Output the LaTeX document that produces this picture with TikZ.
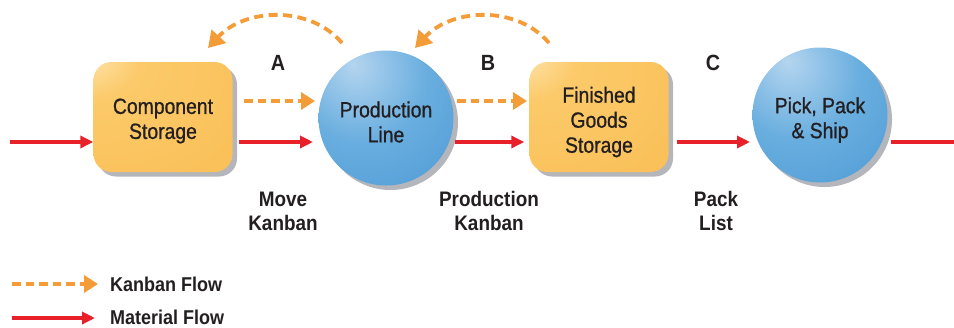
\documentclass[tikz,border=0pt]{standalone}
\usepackage{fontspec}
\setmainfont{Liberation Sans}[FakeStretch=0.9]
\newfontfamily\stationfont{Liberation Sans}[FakeStretch=0.88, FakeBold=0.9]
\usetikzlibrary{arrows.meta,calc}

\definecolor{boxlight}{HTML}{FEEBC0}
\definecolor{boxmain}{HTML}{FCCA6A}
\definecolor{boxdark}{HTML}{F9BE55}
\definecolor{balllight}{HTML}{B4D5EF}
\definecolor{ballmain}{HTML}{69AEDF}
\definecolor{balldark}{HTML}{4E9AD5}
\definecolor{shadowgray}{HTML}{B4B6BC}
\definecolor{kanbanorange}{HTML}{F39C38}
\definecolor{materialred}{HTML}{E8202A}
\definecolor{labeltext}{HTML}{231F20}

\pgfdeclareradialshading{boxshade}{\pgfpoint{-32bp}{32bp}}{%
  color(0bp)=(boxlight); color(18bp)=(boxmain); color(60bp)=(boxdark); color(100bp)=(boxdark)}
\pgfdeclareradialshading{ballshade}{\pgfpoint{-12bp}{20bp}}{%
  color(0bp)=(balllight); color(24bp)=(ballmain); color(50bp)=(balldark); color(100bp)=(balldark)}

\tikzset{
  shadowed/.style={preaction={fill=shadowgray, transform canvas={shift={(4.5pt,-4.5pt)}}}},
  storebox/.style={shadowed, shading=boxshade, rounded corners=18pt,
    minimum width=139pt, minimum height=110pt, inner sep=0pt},
  process/.style={shadowed, circle, shading=ballshade, minimum size=135pt, inner sep=0pt},
  % station captions sit a little below the shape centre
  stationtext/.style={align=center, inner sep=0pt,
    font=\stationfont\fontsize{22}{25}\selectfont, text=labeltext},
  material/.style={draw=materialred, line width=3.4pt,
    -{Triangle[length=13pt,width=12pt]}},
  kanban/.style={draw=kanbanorange, line width=3.8pt, dash pattern=on 8.5pt off 5pt,
    -{Triangle[length=14pt,width=17pt]}},
  kanbanback/.style={draw=kanbanorange, line width=3.8pt, dash pattern=on 9pt off 5.5pt,
    -{Triangle[length=16pt,width=19pt]}},
  tag/.style={font=\bfseries\fontsize{22}{24}\selectfont, text=labeltext},
  caption/.style={font=\bfseries\fontsize{21}{24}\selectfont, text=labeltext, align=center},
  legendtext/.style={font=\bfseries\fontsize{20}{22}\selectfont, text=labeltext,
    anchor=base west, inner sep=0pt}
}

\begin{document}
\begin{tikzpicture}[x=1pt,y=-1pt]
  \useasboundingbox (0,0) rectangle (954,327);

  % stations along the value stream
  \node[storebox] (cs) at (163,117) {};
  \node[process]  (pl) at (386,118) {};
  \node[storebox] (fg) at (599,117) {};
  \node[process]  (ps) at (820,115) {};

  \node[stationtext] (cst) at ([yshift=-4pt]cs.center) {Component\\Storage};
  \node[stationtext] (plt) at ([yshift=-4pt]pl.center) {Production\\Line};
  \node[stationtext] (fgt) at ([yshift=-5pt]fg.center) {Finished\\Goods\\Storage};
  \node[stationtext] (pst) at ([yshift=-5pt]ps.center) {Pick, Pack\\\& Ship};

  % free ends of the material line
  \coordinate (in)  at (10,142);
  \coordinate (out) at (954,142);

  % material flow
  \draw[material] (in) -- (in -| cs.west);
  \draw[material] ([xshift=6pt]cs.east |- 0,142) -- (313,142);
  \draw[material] (455,142) -- ([xshift=-5pt]fg.west |- 0,142);
  \draw[material] ([xshift=8pt]fg.east |- 0,142) -- (750,142);
  \draw[draw=materialred, line width=3.4pt] (891,142) -- (out);

  % kanban flow forward
  \draw[kanban] (244,101) -- (315,101);
  \draw[kanban] (457,101) -- (527,101);

  % kanban signals returning upstream
  \coordinate (a0) at (342,43);
  \coordinate (a1) at (208,48);
  \coordinate (b0) at (549,43);
  \coordinate (b1) at (415,48);
  \draw[kanbanback] (a0) .. controls (310,5) and (245,8) .. (a1);
  \draw[kanbanback] (b0) .. controls (517,5) and (452,8) .. (b1);

  % loop letters
  \node[tag] (la) at (278,63) {A};
  \node[tag] (lb) at (488,63) {B};
  \node[tag] (lc) at (713,63) {C};

  % signal names
  \node[caption] (mk) at (283,211) {Move\\Kanban};
  \node[caption] (pk) at (489,211) {Production\\Kanban};
  \node[caption] (pkl) at (716,211) {Pack\\List};

  % legend
  \coordinate (k0) at (12,284);
  \coordinate (k1) at (98,284);
  \coordinate (m0) at (12,318);
  \coordinate (m1) at (95,318);
  \draw[kanban] (k0) -- (k1);
  \draw[material] (m0) -- (m1);
  \node[legendtext] (kl) at (110,291) {Kanban Flow};
  \node[legendtext] (ml) at (110,324.5) {Material Flow};
\end{tikzpicture}
\end{document}
